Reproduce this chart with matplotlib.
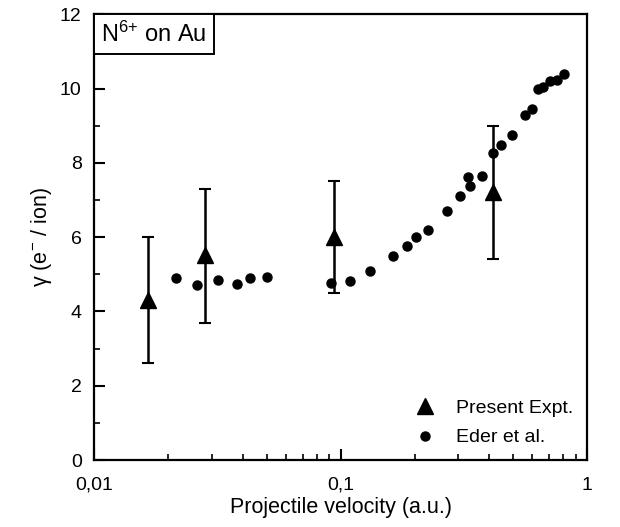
import matplotlib
matplotlib.use("Agg")
import matplotlib.pyplot as plt
from matplotlib.ticker import FixedLocator, FixedFormatter, LogLocator, NullFormatter, MultipleLocator
from matplotlib.offsetbox import AnchoredText

plt.rcParams['font.family'] = ['Liberation Sans', 'DejaVu Sans']
plt.rcParams['mathtext.fontset'] = 'custom'
plt.rcParams['mathtext.rm'] = 'Liberation Sans'
plt.rcParams['mathtext.it'] = 'Liberation Sans:italic'

# Present experiment (triangles with error bars)
expt_v = [0.0165, 0.0282, 0.094, 0.414]
expt_g = [4.30, 5.51, 6.01, 7.22]
expt_hi = [6.0, 7.3, 7.5, 9.0]
expt_lo = [2.6, 3.7, 4.5, 5.4]

# Eder et al. (circles)
eder_v = [0.0215, 0.0260, 0.0319, 0.0378, 0.0430, 0.0501, 0.0911, 0.109, 0.1315,
          0.163, 0.185, 0.203, 0.226, 0.270, 0.306, 0.329, 0.334, 0.375, 0.415,
          0.447, 0.496, 0.561, 0.597, 0.629, 0.662, 0.708, 0.753, 0.809]
eder_g = [4.89, 4.71, 4.84, 4.75, 4.90, 4.93, 4.77, 4.82, 5.09,
          5.50, 5.77, 6.01, 6.20, 6.71, 7.10, 7.62, 7.39, 7.64, 8.27,
          8.49, 8.76, 9.30, 9.46, 10.00, 10.04, 10.20, 10.24, 10.40]

xticks = [0.01, 0.1, 1]
xticklabels = ['0,01', '0,1', '1']
yticks = [0, 2, 4, 6, 8, 10, 12]

fig = plt.figure(figsize=(6.2, 5.27), dpi=100)
ax = fig.add_axes([0.152, 0.127, 0.795, 0.846])

err_lo = [g - l for g, l in zip(expt_g, expt_lo)]
err_hi = [h - g for g, h in zip(expt_g, expt_hi)]
ax.errorbar(expt_v, expt_g, yerr=[err_lo, err_hi], fmt='none', ecolor='black',
            elinewidth=1.8, capsize=4, capthick=1.5, zorder=2)
ax.plot(expt_v, expt_g, linestyle='none', marker='^', color='black', markersize=11,
        label='Present Expt.', zorder=3)
ax.plot(eder_v, eder_g, linestyle='none', marker='o', color='black', markersize=6.5,
        label='Eder et al.', zorder=3)

ax.set_xscale('log')
ax.set_xlim(0.01, 1)
ax.set_ylim(0, 12)
ax.xaxis.set_major_locator(FixedLocator(xticks))
ax.xaxis.set_major_formatter(FixedFormatter(xticklabels))
ax.xaxis.set_minor_locator(LogLocator(base=10, subs=range(2, 10)))
ax.xaxis.set_minor_formatter(NullFormatter())
ax.set_yticks(yticks)
ax.yaxis.set_minor_locator(MultipleLocator(1))

ax.tick_params(which='major', direction='in', length=8, width=1.5, labelsize=14)
ax.tick_params(axis='x', which='major', pad=12)
ax.tick_params(axis='y', which='major', pad=9)
ax.tick_params(which='minor', direction='in', length=4, width=1.2)
for s in ax.spines.values():
    s.set_linewidth(1.6)

ax.set_xlabel('Projectile velocity (a.u.)', fontsize=15.5, labelpad=2)
ax.set_ylabel(r'γ (e$^{-}$ / ion)', fontsize=15.5, labelpad=4)

at = AnchoredText(r'N$^{6{+}}$ on Au', loc='upper left', prop=dict(size=17),
                  frameon=True, borderpad=0.0, pad=0.3)
at.patch.set_edgecolor('black')
at.patch.set_linewidth(1.4)
at.patch.set_boxstyle('square,pad=0')
ax.add_artist(at)

ax.legend(loc='lower right', frameon=False, fontsize=14, handletextpad=0.6,
          borderaxespad=0.3, labelspacing=0.6, markerscale=1.0)

fig.savefig('out.png', dpi=100)
